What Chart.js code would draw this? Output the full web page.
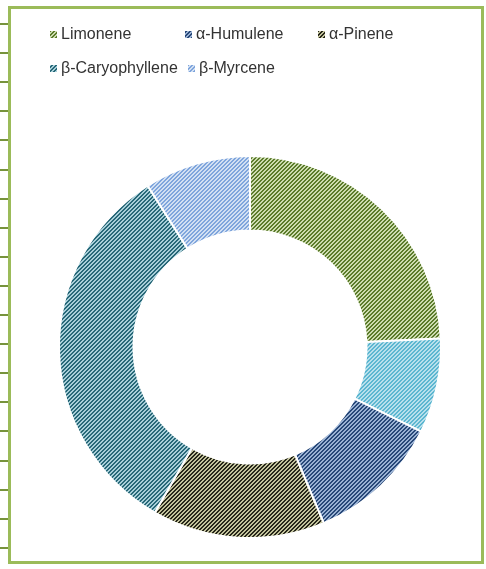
<!DOCTYPE html>
<html>
<head>
<meta charset="utf-8">
<script src="https://cdn.jsdelivr.net/npm/chart.js@4/dist/chart.umd.min.js"></script>
<style>
  html, body { margin: 0; padding: 0; background: #fff; }
  #wrap { position: relative; width: 486px; height: 569px; }
</style>
</head>
<body>
<div id="wrap"><canvas id="terpeneChart" width="486" height="569"></canvas></div>
<script>
// Categories (clockwise from 12 o'clock) and their shares
const terpenes = ['Limonene', 'Other', 'α-Humulene', 'α-Pinene', 'β-Caryophyllene', 'β-Myrcene'];
const shares = [24.3, 8.0, 11.4, 14.6, 32.7, 9.0];
// Legend only lists these (the light cyan slice has no entry)
const legendNames = ['Limonene', 'α-Humulene', 'α-Pinene', 'β-Caryophyllene', 'β-Myrcene'];

// Stripe colours: [dark, light]
const stripeColors = [
    ['#5b7b2b', '#cddcb0'],
    ['#5cb6d0', '#b8e0ec'],
    ['#284878', '#9ab2d4'],
    ['#262619', '#c2c29c'],
    ['#286878', '#a8cfd9'],
    ['#7fa5dc', '#d2e0f3']
];

// "/" diagonal stripe pattern
function makeStripes(dark, light) {
    const p = 4;
    const tile = document.createElement('canvas');
    tile.width = p;
    tile.height = p;
    const t = tile.getContext('2d');
    t.fillStyle = light;
    t.fillRect(0, 0, p, p);
    t.fillStyle = dark;
    for (let x = 0; x < p; x++) {
        for (let y = 0; y < p; y++) {
            if ((x + y) % p < 2) t.fillRect(x, y, 1, 1);
        }
    }
    return document.getElementById('terpeneChart').getContext('2d').createPattern(tile, 'repeat');
}

const patterns = stripeColors.map(c => makeStripes(c[0], c[1]));

// Frame + little ticks on the left
const framePlugin = {
    id: 'frame',
    beforeDraw(chart) {
        const c = chart.ctx;
        c.save();
        c.fillStyle = '#77933c';
        for (let i = 0; i < 19; i++) {
            const y = Math.round(24 + i * 29.1);
            c.fillRect(0, y - 1, 9, 2);
        }
        c.strokeStyle = '#9bbb59';
        c.lineWidth = 3;
        c.strokeRect(9.5, 7.5, 473, 555);
        c.restore();
    }
};

// Legend drawn like the Excel one: two rows
const legendPlugin = {
    id: 'excelLegend',
    afterDraw(chart, args, opts) {
        const c = chart.ctx;
        c.save();
        c.font = '16px "Liberation Sans", Arial, sans-serif';
        c.textBaseline = 'middle';
        legendNames.forEach((name, i) => {
            const pos = opts.slots[i];
            const idx = terpenes.indexOf(name);
            c.fillStyle = patterns[idx];
            c.fillRect(pos[0], pos[1] - 3, 7, 7);
            c.fillStyle = '#333333';
            c.fillText(name, pos[0] + 11, pos[1] + 1);
        });
        c.restore();
    }
};

const ctx = document.getElementById('terpeneChart').getContext('2d');
const terpeneChart = new Chart(ctx, {
    type: 'doughnut',
    data: {
        labels: terpenes,
        datasets: [{
            data: shares,
            backgroundColor: patterns,
            borderColor: '#ffffff',
            borderWidth: 2,
            hoverOffset: 0
        }]
    },
    options: {
        responsive: false,
        animation: false,
        cutout: '61%',
        layout: { padding: { left: 58, right: 44, top: 155, bottom: 30 } },
        plugins: {
            legend: { display: false },
            tooltip: { enabled: false },
            excelLegend: {
                slots: [[50, 34], [185, 34], [318, 34], [50, 68], [188, 68]]
            }
        }
    },
    plugins: [framePlugin, legendPlugin]
});
</script>
</body>
</html>
